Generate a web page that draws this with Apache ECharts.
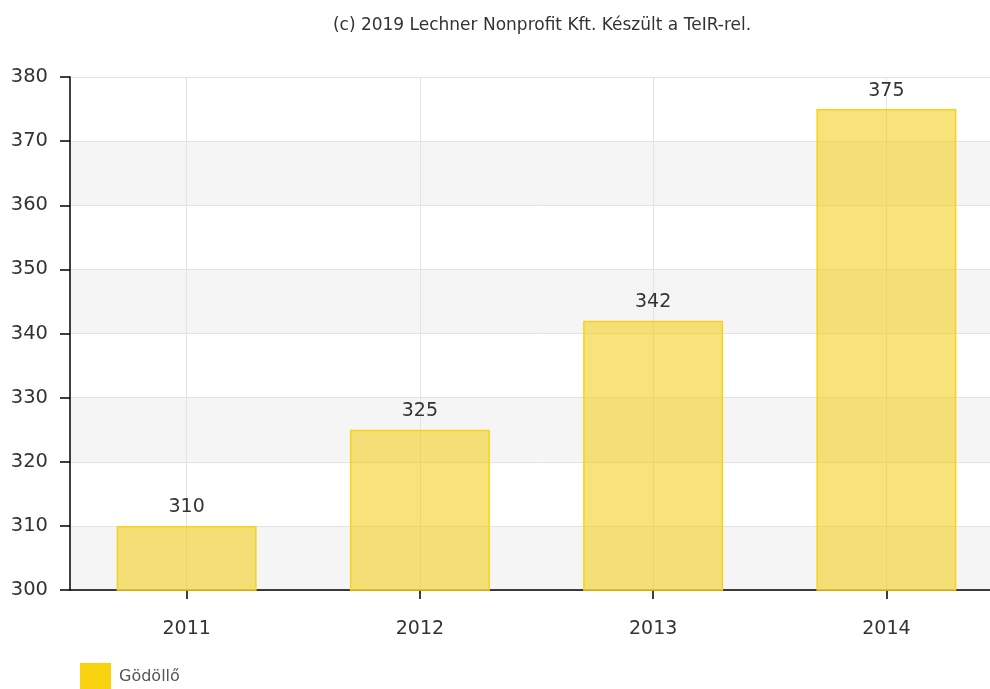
<!DOCTYPE html>
<html>
<head>
<meta charset="utf-8">
<script src="https://cdn.jsdelivr.net/npm/echarts@6/dist/echarts.min.js"></script>
<style>html,body{margin:0;padding:0;background:#fff;overflow:hidden}#c{width:1003px;height:689px}</style>
</head>
<body>
<div id="c"></div>
<script>
const categories = ['2011', '2012', '2013', '2014'];
const values = [310, 325, 342, 375];
const seriesName = 'Gödöllő';
const titleText = '(c) 2019 Lechner Nonprofit Kft. Készült a TeIR-rel.';
const yMin = 300, yMax = 380, yStep = 10;

const chart = echarts.init(document.getElementById('c'));
const FONT = 'DejaVu Sans, Verdana, sans-serif';
chart.setOption({
  animation: false,
  title: {
    text: titleText, left: 537, top: 12, textAlign: 'center',
    textStyle: { fontFamily: FONT, fontSize: 17, fontWeight: 'normal', color: '#333' }
  },
  legend: {
    left: 75, top: 658, itemWidth: 31, itemHeight: 27, itemGap: 8,
    icon: 'rect',
    textStyle: { fontFamily: FONT, fontSize: 16, color: '#555', padding: [4, 0, 0, 3] },
    data: [{ name: seriesName, itemStyle: { color: '#f9d20f', borderWidth: 0, opacity: 1 } }]
  },
  grid: { left: 70, top: 77, right: 0, bottom: 99, containLabel: false },
  xAxis: [{
    type: 'category', data: categories, position: 'bottom',
    axisLine: { show: true, lineStyle: { color: '#000', width: 1.5 } },
    axisTick: { show: true, alignWithLabel: true, length: 9, lineStyle: { color: '#000', width: 1.5 } },
    axisLabel: { fontFamily: FONT, fontSize: 19, color: '#333', margin: 30 },
    splitLine: { show: false }
  }, {
    type: 'value', min: 0, max: 8, interval: 1, position: 'bottom',
    axisLine: { show: false }, axisTick: { show: false }, axisLabel: { show: false },
    splitLine: { show: true, lineStyle: { color: ['rgba(0,0,0,0)', '#e3e3e3'], width: 1 } }
  }],
  yAxis: {
    type: 'value', min: yMin, max: yMax, interval: yStep,
    axisLine: { show: true, lineStyle: { color: '#000', width: 1.5 } },
    axisTick: { show: true, length: 10, lineStyle: { color: '#000', width: 1.5 } },
    axisLabel: { fontFamily: FONT, fontSize: 19.5, color: '#333', margin: 22 },
    splitLine: { show: true, lineStyle: { color: '#e3e3e3', width: 1 } },
    splitArea: { show: true, areaStyle: { color: ['#f5f5f5', '#ffffff'] } }
  },
  series: [{
    type: 'bar', name: seriesName, data: values, xAxisIndex: 0,
    barWidth: '60%',
    itemStyle: { color: 'rgba(242,204,12,0.55)', borderColor: '#f7d21c', borderWidth: 1.5 },
    label: { show: true, position: 'top', distance: 9, fontFamily: FONT, fontSize: 19, color: '#333' }
  }]
});
</script>
</body>
</html>
